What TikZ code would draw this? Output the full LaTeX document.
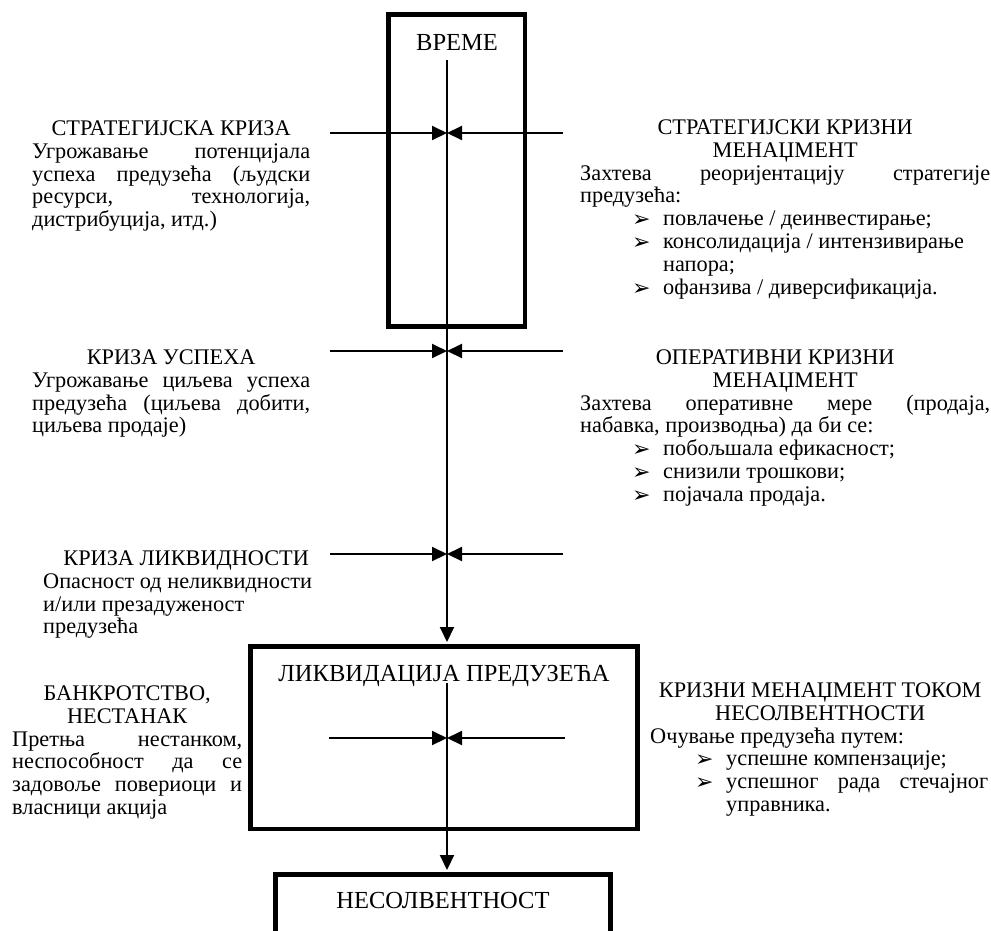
\documentclass[tikz,border=0pt]{standalone}
\usepackage{fontspec}
\setmainfont{Liberation Serif}
\newfontfamily\dingfont{DejaVu Sans}
\usetikzlibrary{arrows.meta}

% justified line of a given width
\newcommand\jl[2]{\makebox[#1][s]{#2}}
% arrow bullet with its gap to the item text
\newcommand\bul{\makebox[31pt][l]{\raisebox{-1pt}{\dingfont\fontsize{22}{22}\selectfont ➢}}}

\tikzset{
  % a text block is placed by the baseline of its last line
  side/.style={font=\fontsize{22.3}{22.8}\selectfont, align=left, inner sep=0pt, anchor=base west},
  boxtitle/.style={font=\fontsize{24.5}{28}\selectfont, inner sep=0pt, anchor=base},
  frame/.style={draw, line width=4.5pt, inner sep=0pt},
  conn/.style={line width=2pt},
  tip/.style={-{Triangle[length=15pt,width=14pt]}}
}

\begin{document}
\begin{tikzpicture}[x=1pt,y=-1pt]
\clip (0,0) rectangle (991,930);

% stage boxes
\node[frame, minimum width=136.5pt, minimum height=312pt] (vreme) at (456.75,170.5) {};
\node[frame, minimum width=387pt, minimum height=182.5pt] (liq) at (444,737.75) {};
\node[frame, minimum width=335pt, minimum height=80pt] (nes) at (443,914.5) {};

\node[boxtitle] (tvreme) at (457,50) {ВРЕМЕ};
\node[boxtitle] (tliq) at (444,681) {ЛИКВИДАЦИЈА ПРЕДУЗЕЋА};
\node[boxtitle] (tnes) at (443,908) {НЕСОЛВЕНТНОСТ};

% time axis
\coordinate (axtop) at (447,60);
\draw[conn,tip,shorten >=2.25pt] (axtop) -- (axtop |- liq.north);
\coordinate (intop) at (447,683);
\draw[conn,tip,shorten >=2.25pt] (intop) -- (intop |- nes.north);

% converging arrows at each crisis stage
\coordinate (l1) at (330,133);  \coordinate (r1) at (563,133);
\coordinate (l2) at (330,351);  \coordinate (r2) at (563,351);
\coordinate (l3) at (330,554);  \coordinate (r3) at (563,554);
\coordinate (l4) at (329,738);  \coordinate (r4) at (565,738);
\foreach \s in {1,2,3,4}{
  \draw[conn,tip] (l\s) -- (l\s -| axtop);
  \draw[conn,tip] (r\s) -- (r\s -| axtop);
}

% crisis descriptions (left)
\node[side] (crisis1) at (32,{135.4+4*22.8}) {%
\makebox[278pt][c]{СТРАТЕГИЈСКА КРИЗА}\\
\jl{278pt}{Угрожавање потенцијала}\\
\jl{278pt}{успеха предузећа (људски}\\
\jl{278pt}{ресурси, технологија,}\\
дистрибуција, итд.)};

\node[side] (crisis2) at (32,{364.4+3*22.8}) {%
\makebox[278pt][c]{КРИЗА УСПЕХА}\\
\jl{278pt}{Угрожавање циљева успеха}\\
\jl{278pt}{предузећа (циљева добити,}\\
циљева продаје)};

\node[side] (crisis3) at (43,{565.4+3*22.8}) {%
\makebox[286pt][c]{КРИЗА ЛИКВИДНОСТИ}\\
Опасност од неликвидности\\
и/или презадуженост\\
предузећа};

\node[side] (crisis4) at (12,{700.4+5*22.8}) {%
\makebox[230pt][c]{БАНКРОТСТВО,}\\
\makebox[230pt][c]{НЕСТАНАК}\\
\jl{230pt}{Претња нестанком,}\\
\jl{230pt}{неспособност да се}\\
\jl{230pt}{задовоље повериоци и}\\
власници акција};

% management responses (right)
\node[side] (mgmt1) at (580,{134.4+7*22.8}) {%
\makebox[410pt][c]{СТРАТЕГИЈСКИ КРИЗНИ}\\
\makebox[410pt][c]{МЕНАЏМЕНТ}\\
\jl{410pt}{Захтева реоријентацију стратегије}\\
предузећа:\\
\hspace*{52pt}\bul повлачење / деинвестирање;\\
\hspace*{52pt}\bul консолидација / интензивирање\\
\hspace*{83pt}напора;\\
\hspace*{52pt}\bul офанзива / диверсификација.};

\node[side] (mgmt2) at (580,{364.4+6*22.8}) {%
\makebox[410pt][c]{ОПЕРАТИВНИ КРИЗНИ\hspace{20pt}}\\
\makebox[410pt][c]{МЕНАЏМЕНТ}\\
\jl{410pt}{Захтева оперативне мере (продаја,}\\
набавка, производња) да би се:\\
\hspace*{52pt}\bul побољшала ефикасност;\\
\hspace*{52pt}\bul снизили трошкови;\\
\hspace*{52pt}\bul појачала продаја.};

\node[side] (mgmt3) at (650,{697.4+5*22.8}) {%
\makebox[340pt][c]{КРИЗНИ МЕНАЏМЕНТ ТОКОМ}\\
\makebox[340pt][c]{НЕСОЛВЕНТНОСТИ}\\
Очување предузећа путем:\\
\hspace*{45pt}\bul успешне компензације;\\
\hspace*{45pt}\bul\jl{262pt}{успешног рада стечајног}\\
\hspace*{76pt}управника.};
\end{tikzpicture}
\end{document}
